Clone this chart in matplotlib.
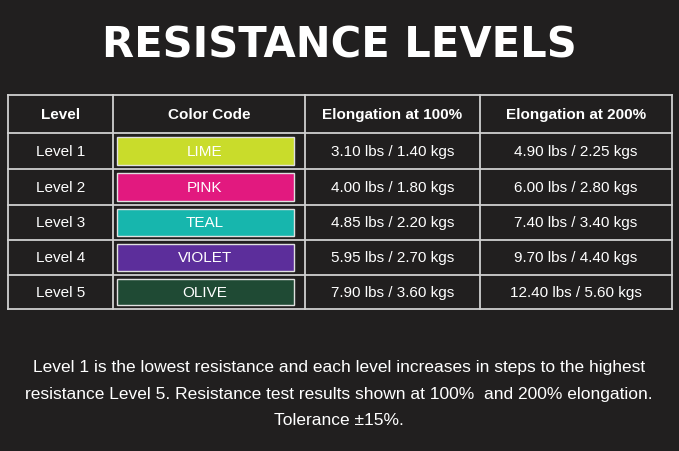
import matplotlib.pyplot as plt
from matplotlib.patches import Rectangle

plt.rcParams["font.family"] = ["Liberation Sans", "DejaVu Sans"]

# table data
levels = ["Level 1", "Level 2", "Level 3", "Level 4", "Level 5"]
color_names = ["LIME", "PINK", "TEAL", "VIOLET", "OLIVE"]
color_fills = ["#c9dc2b", "#e2197f", "#17b6ad", "#5c2e9b", "#1f4a34"]
elong_100 = ["3.10 lbs / 1.40 kgs", "4.00 lbs / 1.80 kgs", "4.85 lbs / 2.20 kgs",
             "5.95 lbs / 2.70 kgs", "7.90 lbs / 3.60 kgs"]
elong_200 = ["4.90 lbs / 2.25 kgs", "6.00 lbs / 2.80 kgs", "7.40 lbs / 3.40 kgs",
             "9.70 lbs / 4.40 kgs", "12.40 lbs / 5.60 kgs"]
headers = ["Level", "Color Code", "Elongation at 100%", "Elongation at 200%"]

bg = "#211f1f"
fig = plt.figure(figsize=(6.79, 4.52), dpi=100)
fig.patch.set_facecolor(bg)
ax = fig.add_axes([0, 0, 1, 1])
ax.set_xlim(0, 679)
ax.set_ylim(452, 0)
ax.axis("off")

ax.text(339, 46, "RESISTANCE LEVELS", color="white", fontsize=30,
        fontweight="bold", family="DejaVu Sans", ha="center", va="center")

col_x = [8, 113, 305, 480, 672]
row_y = [96, 134, 170, 206, 241, 276, 310]

# grid lines
for x in col_x:
    ax.plot([x, x], [row_y[0], row_y[-1]], color="#d0d0d0", lw=1.3)
for y in row_y:
    ax.plot([col_x[0], col_x[-1]], [y, y], color="#d0d0d0", lw=1.3)

def cx(i):
    return (col_x[i] + col_x[i + 1]) / 2

for j, h in enumerate(headers):
    ax.text(cx(j), (row_y[0] + row_y[1]) / 2, h, color="white", fontsize=11,
            fontweight="bold", ha="center", va="center")

for i in range(len(levels)):
    y0, y1 = row_y[i + 1], row_y[i + 2]
    ym = (y0 + y1) / 2
    ax.text(cx(0), ym, levels[i], color="white", fontsize=11, ha="center", va="center")
    ax.add_patch(Rectangle((117, y0 + 4), 177, (y1 - y0) - 8,
                           facecolor=color_fills[i], edgecolor="#e0e0e0", lw=1))
    ax.text(205, ym, color_names[i], color="white", fontsize=11, ha="center", va="center")
    ax.text(cx(2), ym, elong_100[i], color="white", fontsize=11, ha="center", va="center")
    ax.text(cx(3), ym, elong_200[i], color="white", fontsize=11, ha="center", va="center")

note = ["Level 1 is the lowest resistance and each level increases in steps to the highest",
        "resistance Level 5. Resistance test results shown at 100%  and 200% elongation.",
        "Tolerance ±15%."]
for k, line in enumerate(note):
    ax.text(339, 368 + k * 26.5, line, color="white", fontsize=12.5,
            ha="center", va="center")

fig.savefig("out.png", dpi=100, facecolor=bg)
